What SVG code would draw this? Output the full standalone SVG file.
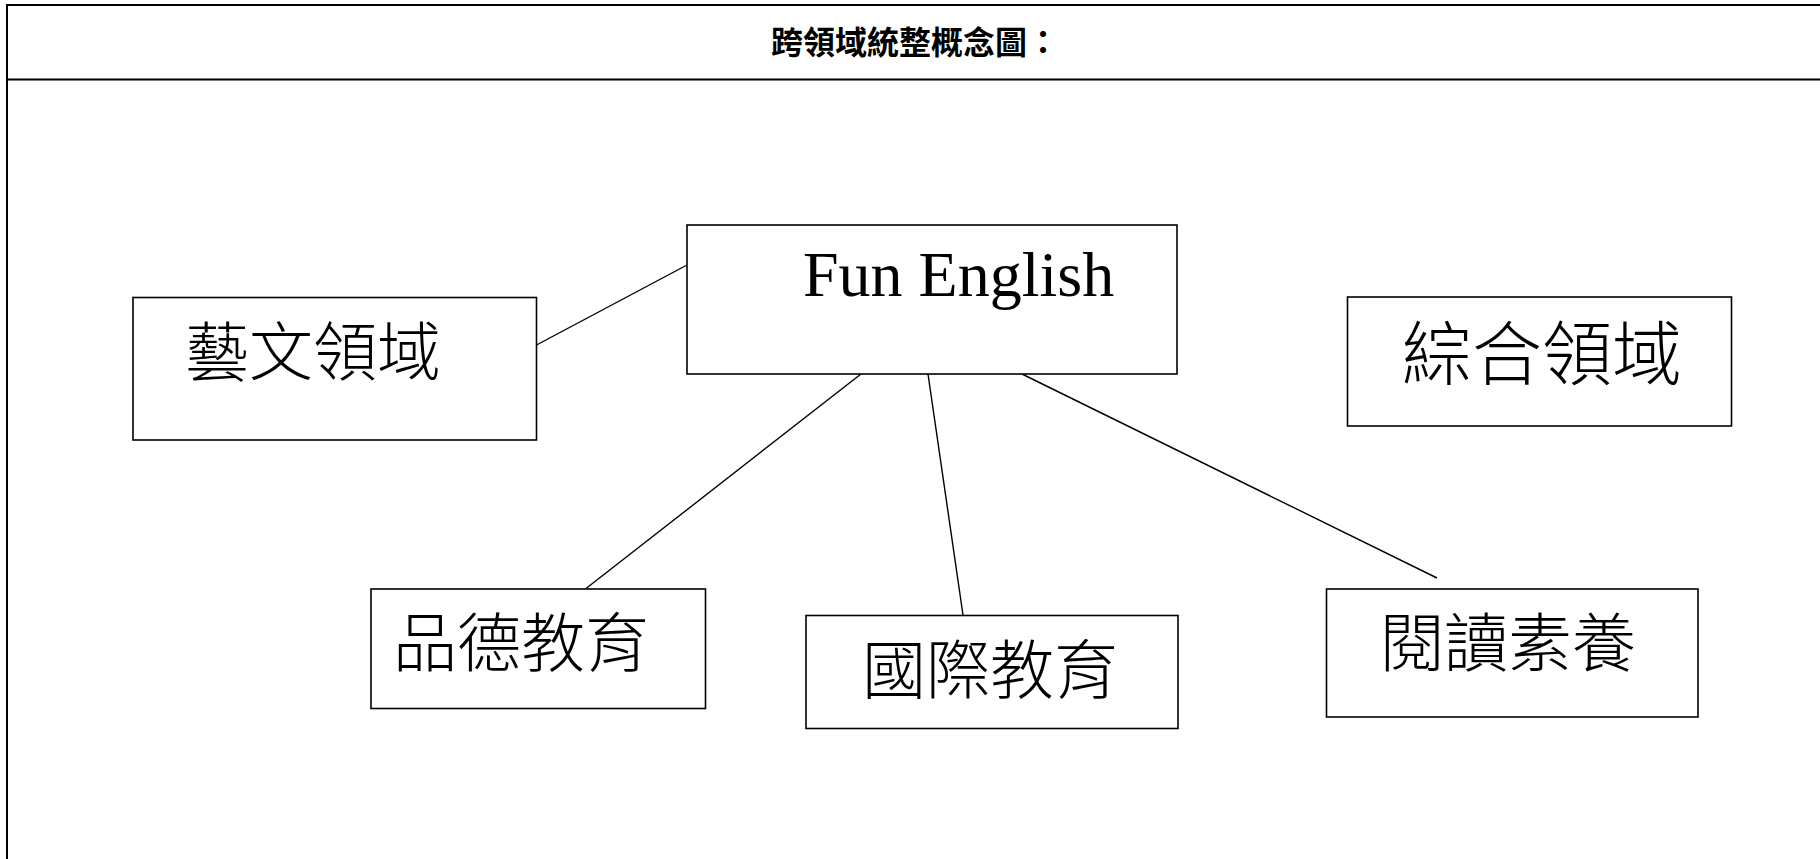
<svg xmlns="http://www.w3.org/2000/svg" width="1820" height="859" viewBox="0 0 1820 859">
<style>
.frame{fill:none;stroke:#000;stroke-width:2}
.box{fill:#fff;stroke:#000;stroke-width:1.6}
.edge{fill:none;stroke:#000;stroke-width:1.4}
.cjk{font-family:"Liberation Serif","Noto Sans CJK TC",serif;font-size:64px;font-weight:300;fill:#000}
.en{font-family:"Liberation Serif","Times New Roman",serif;font-size:64px;fill:#000}
.title{font-family:"Liberation Serif","Noto Sans CJK TC",serif;font-size:32px;font-weight:bold;fill:#000}
</style>
<rect width="1820" height="859" fill="#fff"/>
<g id="frame">
<path class="frame" d="M7,862 V5 H1822"/>
<line class="frame" x1="7" y1="79.5" x2="1822" y2="79.5"/>
<text class="title" x="771" y="54">跨領域統整概念圖：</text>
</g>
<g id="connectors">
<line class="edge" x1="536.5" y1="345" x2="687" y2="265"/>
<line class="edge" x1="861" y1="374" x2="586" y2="588.5"/>
<line class="edge" x1="928" y1="374" x2="963" y2="615"/>
<line class="edge" x1="1022" y1="374" x2="1437" y2="578"/>
</g>
<g id="fun-english">
<rect class="box" x="687" y="225" width="490" height="149"/>
<text class="en" x="803" y="296">Fun English</text>
</g>
<g id="arts">
<rect class="box" x="133" y="297.5" width="403.5" height="142.5"/>
<text class="cjk" x="185" y="375">藝文領域</text>
</g>
<g id="integrated">
<rect class="box" x="1347.5" y="297" width="384" height="129"/>
<text class="cjk" x="1402" y="380" style="font-size:70px">綜合領域</text>
</g>
<g id="moral">
<rect class="box" x="371" y="589" width="334.5" height="119.5"/>
<text class="cjk" x="393" y="666">品德教育</text>
</g>
<g id="international">
<rect class="box" x="806" y="615.5" width="372" height="113"/>
<text class="cjk" x="862" y="693">國際教育</text>
</g>
<g id="reading">
<rect class="box" x="1326.5" y="589" width="371.5" height="128"/>
<text class="cjk" x="1380" y="666">閱讀素養</text>
</g>
</svg>
